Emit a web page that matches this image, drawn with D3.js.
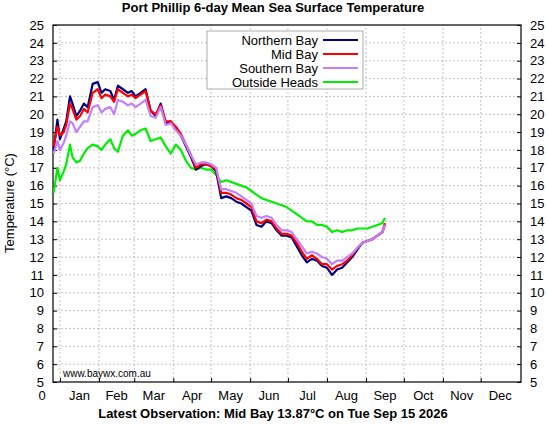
<!DOCTYPE html>
<html>
<head>
<meta charset="utf-8">
<script src="https://d3js.org/d3.v7.min.js"></script>
<style>
  body { margin: 0; background: #fff; }
  text { font-family: "Liberation Sans", Arial, sans-serif; }
</style>
</head>
<body>
<script>
// day of year for each sample
var days = [-5,-2,0,3,5,8,10,13,16,19,22,26,30,33,36,40,43,46,50,54,57,60,64,68,72,76,80,84,88,92,96,100,104,108,112,116,120,124,128,132,136,140,144,148,152,156,160,164,168,172,176,180,184,188,192,196,200,204,208,212,216,220,224,228,232,236,240,244,248,252,256,258];
var northern = [18.0,19.7,18.6,19.2,19.6,21.0,20.6,19.9,20.2,20.6,20.4,21.7,21.8,21.2,21.4,21.3,20.8,21.6,21.4,21.2,21.3,21.0,21.2,21.4,20.2,19.9,20.6,19.5,19.6,19.2,18.8,18.2,17.6,16.9,17.1,17.2,17.1,16.8,15.3,15.4,15.3,15.1,15.0,14.8,14.6,13.8,13.7,14.0,13.9,13.5,13.2,13.2,13.1,12.6,12.1,11.7,11.9,11.8,11.5,11.4,11.0,11.3,11.4,11.7,12.0,12.4,12.8,12.9,13.0,13.2,13.4,13.8];
var mid = [18.2,19.3,18.8,19.0,19.4,20.6,20.3,19.7,19.9,20.3,20.1,21.2,21.4,20.9,21.1,21.0,20.7,21.4,21.2,21.0,21.1,20.9,21.1,21.3,20.2,20.0,20.5,19.6,19.6,19.3,18.9,18.3,17.7,17.0,17.2,17.2,17.1,16.9,15.6,15.6,15.5,15.3,15.2,15.0,14.8,14.0,13.9,14.1,14.0,13.6,13.3,13.3,13.2,12.8,12.3,11.9,12.1,11.9,11.6,11.6,11.3,11.5,11.6,11.8,12.1,12.5,12.8,12.9,13.0,13.2,13.4,13.9];
var southern = [17.8,18.5,18.0,18.4,18.8,19.6,19.5,19.0,19.3,19.6,19.6,20.4,20.5,20.1,20.3,20.4,20.0,20.8,20.7,20.5,20.6,20.4,20.6,20.8,19.9,19.8,20.4,19.4,19.5,19.1,18.8,18.3,17.7,17.2,17.3,17.3,17.2,17.0,15.8,15.8,15.7,15.6,15.4,15.2,15.0,14.3,14.2,14.3,14.2,13.8,13.5,13.5,13.4,13.0,12.6,12.2,12.3,12.2,12.0,11.9,11.6,11.8,11.8,12.0,12.2,12.5,12.8,12.9,13.0,13.2,13.4,13.8];
var outside = [15.6,17.0,16.3,16.8,17.2,18.3,17.6,17.3,17.4,17.8,18.1,18.3,18.2,18.0,18.3,18.6,18.1,17.9,18.8,19.1,18.8,18.9,19.1,19.2,18.5,18.6,18.7,18.2,17.8,18.3,18.0,17.4,17.0,16.9,17.0,16.9,16.9,16.6,16.2,16.3,16.2,16.1,16.0,15.9,15.7,15.5,15.3,15.2,15.1,15.0,14.9,14.8,14.6,14.4,14.2,14.0,14.0,13.8,13.8,13.7,13.4,13.5,13.4,13.5,13.5,13.6,13.6,13.6,13.7,13.8,13.9,14.2];
var seriesNames = ["Northern Bay", "Mid Bay", "Southern Bay", "Outside Heads"];
var seriesColors = ["#000080", "#ff0000", "#c080ff", "#00ee00"];
var months = ["Jan","Feb","Mar","Apr","May","Jun","Jul","Aug","Sep","Oct","Nov","Dec"];
var monthLen = [31,28,31,30,31,30,31,31,30,31,30,31];

var W = 548, H = 424;
var svg = d3.select("body").append("svg").attr("width", W).attr("height", H);

var x = d3.scaleLinear().domain([-5.5, 366]).range([53, 521]);
var y = d3.scaleLinear().domain([5, 25]).range([382, 25]);

// month boundaries
var starts = [0];
monthLen.forEach(function(l, i) { starts.push(starts[i] + l); });

// grid
var grid = svg.append("g").attr("stroke", "#b4b4b4").attr("stroke-dasharray", "2,2").attr("stroke-width", 0.8);
starts.slice(0, 12).forEach(function(s) {
  grid.append("line").attr("x1", x(s)).attr("x2", x(s)).attr("y1", y(5)).attr("y2", y(25));
});
d3.range(6, 25).forEach(function(t) {
  grid.append("line").attr("x1", x(-5.5)).attr("x2", x(366)).attr("y1", y(t)).attr("y2", y(t));
});

// axes
var yl = svg.append("g").attr("transform", "translate(" + x(-5.5) + ",0)")
  .call(d3.axisLeft(y).ticks(20).tickSize(-4).tickPadding(9));
var yr = svg.append("g").attr("transform", "translate(" + x(366) + ",0)")
  .call(d3.axisRight(y).ticks(20).tickSize(-4).tickPadding(9));
[yl, yr].forEach(function(a) {
  a.select(".domain").remove();
  a.selectAll("text").attr("font-size", 13).attr("font-family", "Liberation Sans, Arial");
  a.selectAll("line").attr("stroke", "#000");
});
var xa = svg.append("g").attr("transform", "translate(0," + y(5) + ")")
  .call(d3.axisBottom(x).tickValues(starts.slice(0, 12)).tickSize(-4).tickFormat(""));
xa.select(".domain").remove();
svg.append("g").selectAll("text").data(months).join("text")
  .attr("x", function(d, i) { return x(starts[i] + monthLen[i] / 2); })
  .attr("y", 400).attr("text-anchor", "middle").attr("font-size", 13).text(function(d) { return d; });
svg.append("text").attr("x", 42).attr("y", 400).attr("text-anchor", "middle").attr("font-size", 13).text("0");

svg.append("rect").attr("x", x(-5.5)).attr("y", y(25)).attr("width", x(366) - x(-5.5)).attr("height", y(5) - y(25))
  .attr("fill", "none").attr("stroke", "#000").attr("stroke-width", 1.2);

// series lines
var all = [northern, mid, southern, outside];
var line = d3.line().x(function(d, i) { return x(days[i]); }).y(function(d) { return y(d); });
[outside, northern, mid, southern].forEach(function(s) {
  var k = all.indexOf(s);
  svg.append("path").datum(s).attr("d", line).attr("fill", "none")
    .attr("stroke", seriesColors[k]).attr("stroke-width", 2.2).attr("stroke-linejoin", "round");
});

// legend
var lg = svg.append("g");
lg.append("rect").attr("x", 207).attr("y", 31).attr("width", 156).attr("height", 58)
  .attr("fill", "#fff").attr("stroke", "#999").attr("stroke-width", 0.8);
seriesNames.forEach(function(n, i) {
  var yy = 40 + i * 14;
  lg.append("text").attr("x", 318).attr("y", yy + 5).attr("text-anchor", "end").attr("font-size", 13).text(n);
  lg.append("line").attr("x1", 323).attr("x2", 358).attr("y1", yy).attr("y2", yy)
    .attr("stroke", seriesColors[i]).attr("stroke-width", 2.2);
});

// texts
svg.append("text").attr("x", 273).attr("y", 12).attr("text-anchor", "middle").attr("font-size", 13)
  .attr("font-weight", "bold").text("Port Phillip 6-day Mean Sea Surface Temperature");
svg.append("text").attr("transform", "translate(14,203) rotate(-90)").attr("text-anchor", "middle")
  .attr("font-size", 13).text("Temperature (°C)");
svg.append("text").attr("x", 63).attr("y", 377).attr("font-size", 10).text("www.baywx.com.au");
svg.append("text").attr("x", 273).attr("y", 418).attr("text-anchor", "middle").attr("font-size", 13)
  .attr("font-weight", "bold").text("Latest Observation: Mid Bay 13.87°C on Tue Sep 15 2026");
</script>
</body>
</html>
